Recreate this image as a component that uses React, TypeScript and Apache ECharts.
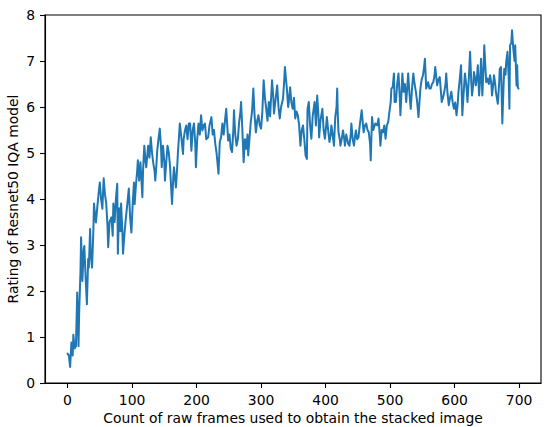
import React, { useEffect, useRef } from "react";
import * as echarts from "echarts";

const frames: number[] = [
  0, 2, 4, 6, 8, 9, 11, 13, 15, 17, 18, 20, 21, 23, 25, 26, 28, 30, 32, 33, 35, 36, 38, 40, 41, 43, 44, 46, 48, 50,
  52, 54, 56, 58, 60, 62, 63, 65, 68, 70, 71, 73, 75, 77, 78, 80, 82, 83, 85, 86, 88, 90, 92, 95, 97, 99, 101, 103, 104, 106,
  108, 109, 111, 113, 116, 117, 119, 121, 122, 124, 125, 127, 129, 131, 133, 135, 136, 138, 139, 141, 143, 145, 146, 148, 150, 151, 153, 155, 157, 159,
  160, 162, 164, 165, 167, 168, 170, 171, 173, 174, 176, 179, 180, 182, 184, 186, 188, 190, 192, 194, 196, 198, 199, 201, 203, 205, 207, 209, 211, 213,
  215, 218, 220, 223, 225, 227, 229, 231, 234, 236, 238, 240, 242, 244, 246, 248, 249, 251, 253, 255, 257, 258, 260, 262, 264, 266, 268, 269, 271, 273,
  275, 277, 279, 280, 282, 284, 286, 288, 290, 292, 294, 296, 298, 300, 302, 304, 306, 308, 310, 312, 314, 317, 319, 320, 322, 325, 327, 329, 331, 334,
  336, 337, 338, 340, 342, 343, 345, 347, 349, 351, 353, 355, 357, 359, 361, 363, 365, 367, 369, 371, 372, 374, 376, 378, 380, 383, 385, 387, 389, 390,
  392, 395, 397, 399, 401, 402, 404, 406, 408, 409, 411, 413, 415, 417, 418, 419, 420, 422, 423, 425, 427, 429, 430, 432, 433, 435, 437, 439, 440, 442,
  444, 446, 447, 449, 451, 453, 456, 458, 459, 461, 463, 465, 467, 469, 470, 472, 474, 477, 480, 482, 484, 485, 487, 489, 491, 493, 495, 497, 499, 501,
  502, 504, 506, 507, 509, 511, 513, 515, 516, 518, 519, 521, 523, 525, 527, 528, 530, 532, 534, 536, 538, 540, 542, 544, 546, 547, 549, 551, 553, 554,
  556, 558, 559, 561, 563, 565, 567, 569, 570, 572, 573, 575, 577, 579, 580, 582, 584, 586, 587, 589, 591, 593, 595, 597, 599, 601, 603, 605, 606, 608,
  610, 612, 614, 616, 618, 620, 622, 624, 626, 627, 629, 630, 632, 633, 635, 636, 638, 640, 641, 643, 645, 646, 648, 649, 651, 653, 655, 657, 658, 660,
  661, 663, 664, 667, 669, 670, 672, 674, 676, 677, 679, 680, 682, 684, 685, 686, 688, 689, 691, 693, 694, 696, 697, 698, 699,
];

const ratings: number[] = [
  0.64, 0.6, 0.35, 0.88, 0.6, 1.05, 0.75, 0.8, 1.97, 0.8, 1.53, 2.4, 3.17, 2.22, 2.9, 2.98, 2.3, 1.71, 2.7, 2.51, 3.35, 2.8, 2.51, 3.3, 3.9, 3.6, 3.49, 3.8, 4.1, 4.36,
  4.0, 3.79, 4.45, 4.1, 3.9, 3.4, 2.95, 3.5, 3.6, 3.2, 3.9, 3.5, 4.0, 4.33, 2.81, 3.8, 3.3, 3.9, 3.3, 2.81, 3.2, 3.53, 3.8, 4.23, 3.6, 3.27, 3.9, 4.36, 3.89, 4.3,
  4.62, 4.84, 4.4, 4.8, 4.04, 4.6, 5.16, 4.8, 4.69, 5.0, 5.16, 4.9, 5.34, 5.0, 4.77, 4.6, 4.4, 4.8, 5.05, 5.3, 5.53, 5.1, 4.69, 5.16, 4.8, 4.4, 4.8, 5.16, 5.0, 4.69,
  4.4, 3.89, 4.5, 4.69, 4.4, 4.25, 4.7, 4.98, 5.4, 5.64, 5.4, 4.98, 5.3, 5.49, 5.6, 5.3, 5.64, 5.64, 5.05, 5.5, 5.64, 5.2, 4.69, 5.3, 5.64, 5.4, 5.82, 5.49, 5.6, 5.64,
  5.3, 5.34, 5.6, 5.78, 5.4, 5.5, 5.2, 5.0, 4.55, 5.24, 5.34, 5.64, 5.4, 5.7, 5.96, 5.5, 5.27, 5.4, 5.1, 5.02, 5.5, 5.93, 5.4, 5.16, 5.3, 5.67, 5.9, 6.11, 5.5, 4.8,
  5.3, 5.09, 5.4, 4.95, 5.3, 5.67, 5.9, 6.4, 5.8, 5.45, 5.7, 5.82, 5.6, 5.53, 5.9, 6.58, 6.2, 5.96, 5.7, 6.11, 5.8, 6.58, 6.2, 5.86, 6.1, 6.47, 6.0, 5.75, 6.0, 6.18,
  6.6, 6.87, 6.7, 6.4, 6.0, 6.11, 6.43, 6.1, 5.96, 6.2, 5.75, 5.9, 5.82, 5.6, 5.16, 5.5, 5.6, 5.3, 4.95, 4.87, 5.96, 6.11, 5.6, 5.31, 5.8, 6.11, 5.6, 6.25, 5.8, 5.34,
  5.7, 5.96, 5.5, 5.31, 5.6, 5.78, 5.5, 5.24, 5.4, 5.6, 5.4, 5.16, 5.78, 6.0, 6.4, 5.8, 5.45, 5.3, 5.16, 5.3, 5.49, 5.3, 5.16, 5.4, 5.34, 5.2, 5.16, 5.4, 5.64, 5.3,
  5.16, 5.4, 5.49, 5.3, 5.34, 5.6, 5.93, 5.6, 5.45, 5.6, 5.64, 5.5, 5.45, 5.2, 4.84, 5.78, 5.5, 5.64, 5.6, 5.75, 5.4, 5.16, 5.5, 5.45, 5.6, 5.31, 5.6, 5.67, 5.9, 6.11,
  6.4, 6.43, 6.73, 6.11, 6.11, 6.5, 6.73, 6.2, 5.82, 6.4, 6.73, 6.33, 6.5, 6.11, 6.5, 6.73, 6.3, 5.96, 6.4, 6.73, 6.5, 6.33, 6.1, 5.78, 6.2, 6.4, 6.6, 6.69, 6.9, 7.05,
  6.4, 6.5, 6.54, 6.4, 6.4, 6.5, 6.54, 6.7, 6.87, 6.6, 6.47, 6.6, 6.65, 6.3, 6.11, 6.2, 6.33, 6.5, 6.73, 6.3, 6.04, 6.2, 6.33, 6.1, 5.96, 6.1, 5.82, 6.1, 6.33, 6.6,
  6.91, 5.82, 6.3, 6.73, 6.5, 6.11, 6.6, 7.2, 6.5, 6.25, 6.5, 6.76, 6.6, 6.47, 6.7, 6.91, 6.25, 6.7, 7.05, 6.25, 6.9, 7.34, 6.8, 6.54, 6.62, 6.5, 6.69, 6.5, 6.25, 6.5,
  6.69, 6.5, 6.33, 6.07, 6.5, 6.83, 6.87, 5.64, 6.5, 6.83, 6.7, 6.98, 7.2, 6.6, 5.96, 7.34, 7.4, 7.67, 7.27, 7.0, 7.34, 6.47, 6.91, 6.43, 6.4,
];

const xTicks: number[] = [0, 100, 200, 300, 400, 500, 600, 700];
const yTicks: number[] = [0, 1, 2, 3, 4, 5, 6, 7, 8];

const xLabel = "Count of raw frames used to obtain the stacked image";
const yLabel = "Rating of Resnet50 IQA model";

export default function App() {
  const ref = useRef<HTMLDivElement>(null);

  useEffect(() => {
    if (!ref.current) return;
    const chart = echarts.init(ref.current, undefined, { renderer: "svg" });
    const n = Math.min(frames.length, ratings.length);
    const data: [number, number][] = [];
    for (let i = 0; i < n; i++) data.push([frames[i], ratings[i]]);

    const font = "DejaVu Sans";
    const fs = 13.9;
    const xMin = -0.05 * 699;
    const xMax = 699 + 0.05 * 699;

    chart.setOption({
      animation: false,
      backgroundColor: "#ffffff",
      grid: {
        left: 45,
        top: 15,
        width: 496,
        height: 368,
        containLabel: false,
        outerBoundsMode: "none",
        show: true,
        borderColor: "#000000",
        borderWidth: 1.1,
        backgroundColor: "transparent",
      },
      xAxis: {
        type: "value",
        min: xMin,
        max: xMax,
        splitLine: { show: false },
        axisLine: { show: true, onZero: false, lineStyle: { color: "#000000", width: 1.1 } },
        axisTick: {
          show: true,
          inside: false,
          length: 5,
          customValues: xTicks,
          lineStyle: { color: "#000000", width: 1.1 },
        },
        axisLabel: {
          show: true,
          customValues: xTicks,
          margin: 10,
          color: "#000000",
          fontFamily: font,
          fontSize: fs,
        },
        name: xLabel,
        nameLocation: "middle",
        nameGap: 28,
        nameMoveOverlap: false,
        nameTextStyle: { color: "#000000", fontFamily: font, fontSize: fs },
      },
      yAxis: {
        type: "value",
        min: 0,
        max: 8,
        interval: 1,
        splitLine: { show: false },
        axisLine: { show: true, onZero: false, lineStyle: { color: "#000000", width: 1.1 } },
        axisTick: {
          show: true,
          inside: false,
          length: 5,
          customValues: yTicks,
          lineStyle: { color: "#000000", width: 1.1 },
        },
        axisLabel: {
          show: true,
          customValues: yTicks,
          margin: 10,
          color: "#000000",
          fontFamily: font,
          fontSize: fs,
        },
        name: yLabel,
        nameLocation: "middle",
        nameGap: 25,
        nameRotate: 90,
        nameMoveOverlap: false,
        nameTextStyle: { color: "#000000", fontFamily: font, fontSize: fs },
      },
      series: [
        {
          type: "line",
          data,
          showSymbol: false,
          symbol: "none",
          lineStyle: { color: "#1f77b4", width: 2, join: "round", cap: "round" },
          itemStyle: { color: "#1f77b4" },
          emphasis: { disabled: true },
          clip: true,
        },
      ],
    });

    return () => {
      chart.dispose();
    };
  }, []);

  return (
    <div
      ref={ref}
      style={{ position: "fixed", left: 0, top: 0, width: 549, height: 427, background: "#ffffff" }}
    />
  );
}
